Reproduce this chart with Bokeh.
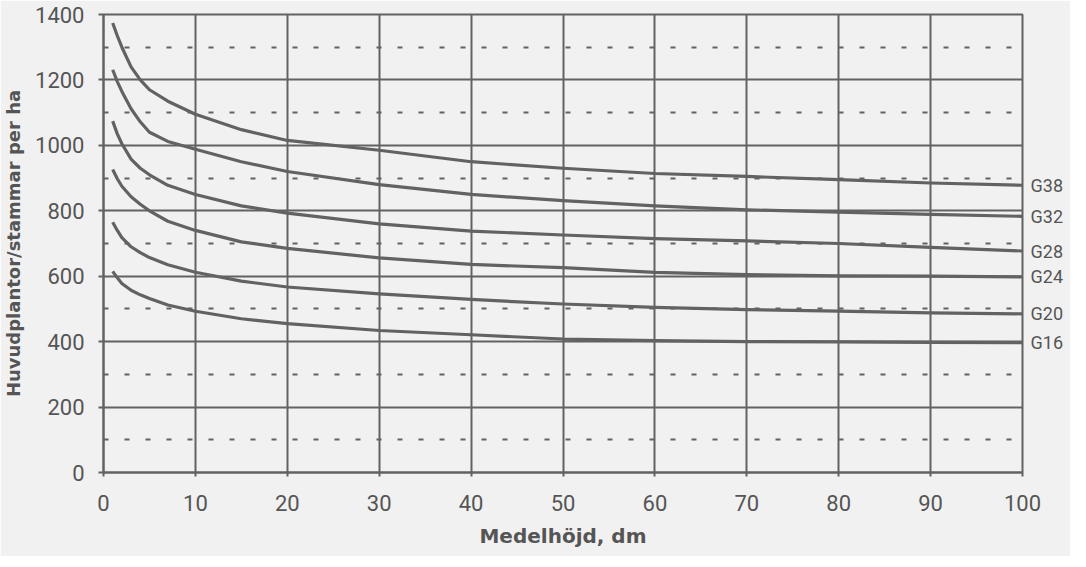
from bokeh.plotting import figure
from bokeh.models import Range1d, LinearAxis, FixedTicker
from bokeh.embed import file_html
from bokeh.resources import INLINE

# Data
hojd = [1, 1.5, 2, 3, 4, 5, 7, 10, 15, 20, 30, 40, 50, 60, 70, 80, 90, 100]
g38 = [1374, 1335, 1300, 1240, 1200, 1170, 1135, 1095, 1048, 1015, 985, 950, 930, 914, 905, 895, 885, 878]
g32 = [1231, 1195, 1165, 1112, 1072, 1040, 1012, 988, 950, 920, 880, 850, 831, 815, 803, 796, 789, 783]
g28 = [1074, 1035, 1005, 958, 930, 910, 878, 850, 815, 793, 760, 738, 726, 715, 708, 700, 688, 677]
g24 = [926, 898, 875, 843, 820, 800, 768, 740, 705, 685, 656, 636, 626, 612, 605, 601, 600, 598]
g20 = [765, 740, 718, 690, 672, 657, 635, 612, 585, 567, 546, 529, 515, 505, 498, 493, 488, 485]
g16 = [615, 595, 578, 557, 543, 532, 512, 493, 470, 455, 434, 421, 408, 403, 400, 399, 398, 397]
series_names = ["G38", "G32", "G28", "G24", "G20", "G16"]
series_vals = [g38, g32, g28, g24, g20, g16]

x_ticks = [0, 10, 20, 30, 40, 50, 60, 70, 80, 90, 100]
y_ticks = [0, 200, 400, 600, 800, 1000, 1200, 1400]
y_dotted = [100, 300, 500, 700, 900, 1100, 1300]

INK = "#626262"
TXT = "#555555"
BG = "#f1f1f1"

p = figure(width=1070, height=556, x_range=Range1d(0, 100), y_range=Range1d(0, 1400),
           output_backend="svg", toolbar_location=None,
           min_border_left=100, min_border_right=48, min_border_top=14, min_border_bottom=84)

p.background_fill_color = BG
p.border_fill_color = BG
p.outline_line_color = INK
p.outline_line_width = 2

# axes
p.xaxis.ticker = FixedTicker(ticks=x_ticks)
p.yaxis.ticker = FixedTicker(ticks=y_ticks, minor_ticks=y_dotted)
for ax in (p.xaxis, p.yaxis):
    ax.axis_line_color = INK
    ax.axis_line_width = 2
    ax.major_tick_line_color = INK
    ax.major_tick_line_width = 2
    ax.major_tick_in = 0
    ax.minor_tick_line_color = None
    ax.major_label_text_font = "Roboto"
    ax.major_label_text_font_size = "22px"
    ax.major_label_text_color = TXT
    ax.axis_label_text_font = "DejaVu Sans"
    ax.axis_label_text_font_style = "bold"
    ax.axis_label_text_color = TXT
p.xaxis.axis_label_text_font_size = "20px"
p.yaxis.axis_label_text_font_size = "18px"
p.xaxis.major_tick_out = 4
p.yaxis.major_tick_out = 5
p.xaxis.major_label_standoff = 18
p.yaxis.major_label_standoff = 14
p.xaxis.axis_label = "Medelhöjd, dm"
p.yaxis.axis_label = "Huvudplantor/stammar per ha"
p.xaxis.axis_label_standoff = 10
p.yaxis.axis_label_standoff = 8

# grid
p.xgrid.grid_line_color = INK
p.xgrid.grid_line_width = 2
p.ygrid.grid_line_color = INK
p.ygrid.grid_line_width = 2
p.ygrid.minor_grid_line_color = INK
p.ygrid.minor_grid_line_width = 2
p.ygrid.minor_grid_line_dash = "5 16"

# curves
for vals in series_vals:
    p.line(hojd, vals, line_color=INK, line_width=3.2, line_join="round")

# curve labels on the right
end_vals = [v[-1] for v in series_vals]
right = LinearAxis(ticker=FixedTicker(ticks=end_vals),
                   major_label_overrides={v: n for v, n in zip(end_vals, series_names)})
right.axis_line_color = None
right.major_tick_line_color = None
right.minor_tick_line_color = None
right.major_tick_out = 0
right.major_label_standoff = 8
right.major_label_text_font = "Roboto"
right.major_label_text_font_size = "18px"
right.major_label_text_color = TXT
p.add_layout(right, "right")

open("out.html", "w").write(file_html(p, INLINE))
